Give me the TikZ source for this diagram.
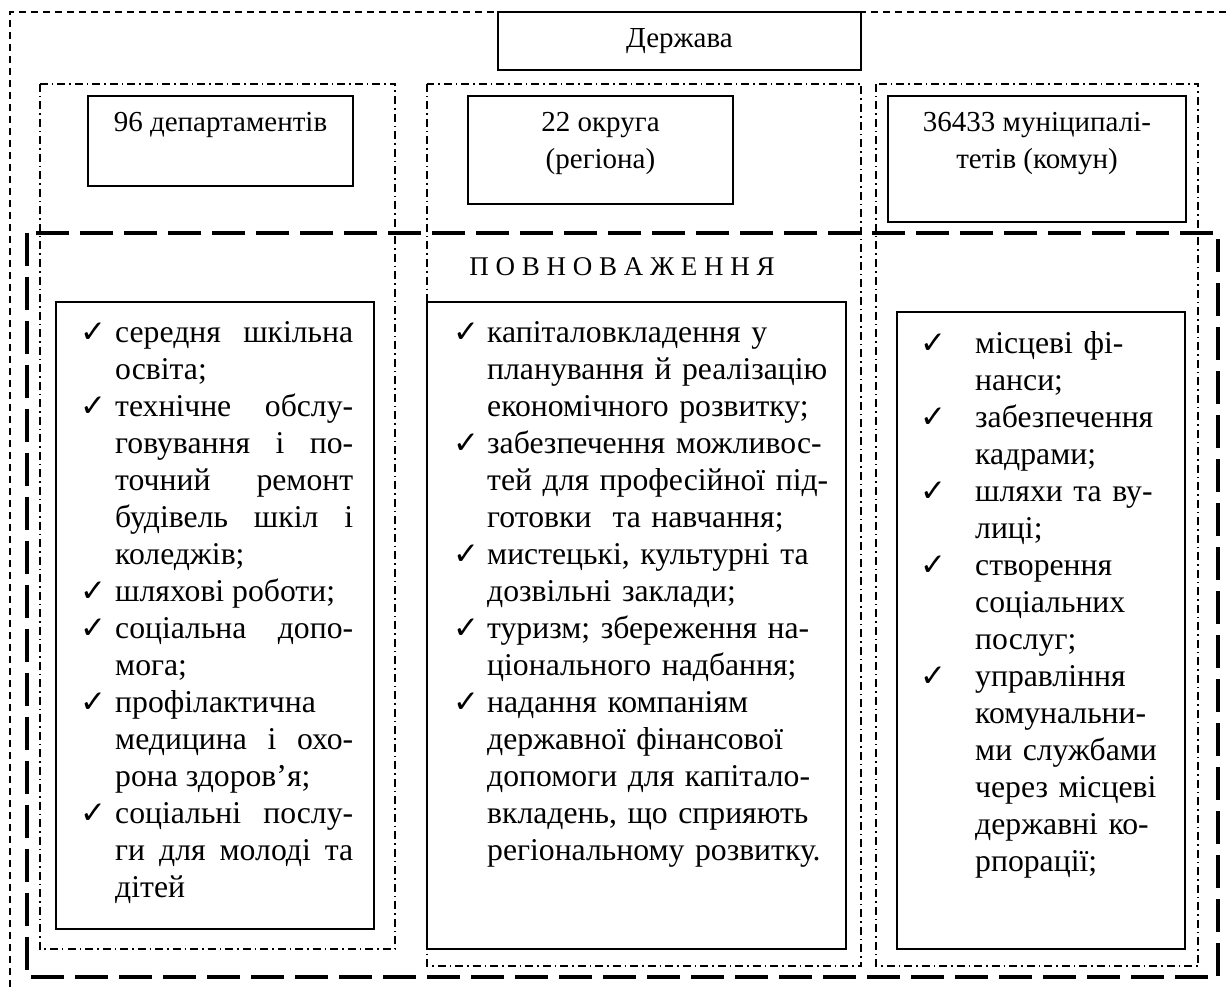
\documentclass[tikz,border=0pt]{standalone}
\usepackage{fontspec}
\setmainfont{Liberation Serif}
\newfontfamily\ticksym{DejaVu Sans}
\usetikzlibrary{positioning}

\newlength{\chkind}
\newcommand{\chk}{\par\hangindent=\chkind\hangafter=1\noindent
  \makebox[\chkind][l]{\ticksym\fontsize{31}{31}\selectfont ✓}}

\tikzset{
  outerline/.style={
    line width=1.2pt,
    dash pattern=on 7pt off 5pt
  },
  coldash/.style={
    line width=1.3pt,
    dash pattern=on 8pt off 4pt on 1.5pt off 4pt
  },
  powline/.style={
    line width=4.5pt,
    dash pattern=on 33pt off 11pt
  },
  box/.style={
    draw,
    line width=2pt,
    inner sep=0pt
  },
  unit/.style={
    font=\fontsize{29}{37}\selectfont,
    align=center,
    inner sep=0pt
  },
  duties/.style={
    font=\fontsize{31.7}{37}\selectfont,
    anchor=north west,
    inner sep=0pt
  },
}

\begin{document}
\begin{tikzpicture}[x=1pt,y=-1pt]
  \useasboundingbox (0,0) rectangle (1229,987);
  % frames
  \draw[outerline] (10,987) |- (1229,12);
  \draw[powline] (27,233) rectangle (1218,977);
  \draw[coldash] (40,84) rectangle (395,949);
  \draw[coldash] (427,84) rectangle (861,966);
  \draw[coldash] (876,84) rectangle (1198,966);

  % boxes
  \node[box, fill=white, minimum width=363pt, minimum height=58pt] (state) at (679.5,41) {};
  \node[box, minimum width=265pt, minimum height=90pt] (dept) at (220.5,141) {};
  \node[box, minimum width=265pt, minimum height=108pt] (okrug) at (600.5,150) {};
  \node[box, minimum width=298pt, minimum height=126pt] (mun) at (1037,159) {};
  \node[box, minimum width=318pt, minimum height=627pt] (listl) at (215,615.5) {};
  \node[box, minimum width=419pt, minimum height=647pt] (listm) at (636.5,625.5) {};
  \node[box, minimum width=288pt, minimum height=637pt] (listr) at (1041,630.5) {};

  % labels
  \node[unit] (statelbl) at (state.center) {Держава};
  \node[unit] (deptlbl) at (220.5,125) {96 департаментів};
  \node[unit] (okruglbl) at (600.5,143.5) {22 округа\\(регіона)};
  \node[unit] (munlbl) at (1037,143.5) {36433 муніципалі-\\тетів (комун)};
  \node[unit, font=\fontsize{27}{30}\selectfont] (powlbl) at (622,267) {П О В Н О В А Ж Е Н Н Я};

  % lists
  \node[duties, text width=273pt, align=justify] (dutyl) at (80,305) {%
    \setlength{\chkind}{35pt}%
    \chk середня шкільна\linebreak освіта;
    \chk технічне обслу-\linebreak говування і по-\linebreak точний ремонт\linebreak будівель шкіл і\linebreak коледжів;
    \chk шляхові роботи;
    \chk соціальна допо-\linebreak мога;
    \chk профілактична\newline медицина і охо-\linebreak рона здоров’я;
    \chk соціальні послу-\linebreak ги для молоді та\linebreak дітей\par};
  \node[duties, text width=380pt, align=left] (dutym) at (453,305) {%
    \setlength{\chkind}{34pt}%
    \chk капіталовкладення у\newline планування й реалізацію\newline економічного розвитку;
    \chk забезпечення можливос-\newline тей для професійної під-\newline готовки\ \ та навчання;
    \chk мистецькі, культурні та\newline дозвільні заклади;
    \chk туризм; збереження на-\newline ціонального надбання;
    \chk надання компаніям\newline державної фінансової\newline допомоги для капітало-\newline вкладень, що сприяють\newline регіональному розвитку.\par};
  \node[duties, text width=255pt, align=left] (dutyr) at (920,316) {%
    \setlength{\chkind}{55pt}%
    \chk місцеві фі-\newline нанси;
    \chk забезпечення\newline кадрами;
    \chk шляхи та ву-\newline лиці;
    \chk створення\newline соціальних\newline послуг;
    \chk управління\newline комунальни-\newline ми службами\newline через місцеві\newline державні ко-\newline рпорації;\par};
\end{tikzpicture}
\end{document}
